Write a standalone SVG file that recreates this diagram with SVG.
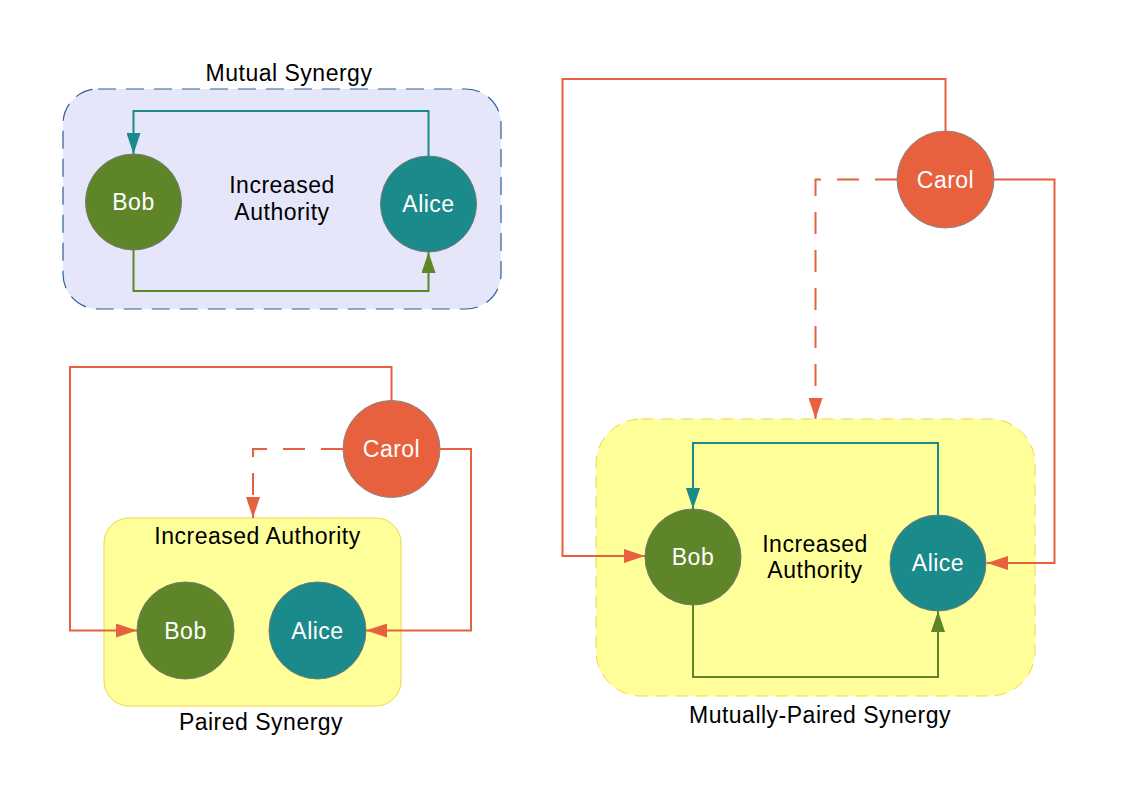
<svg xmlns="http://www.w3.org/2000/svg" width="1123" height="794" viewBox="0 0 1123 794">
<style>
text{font-family:"Liberation Sans",Arial,sans-serif;font-size:23px;letter-spacing:0.5px;text-anchor:middle;fill:#000}
.w{fill:#fff}
.bob{fill:#5e8527;stroke:#777;stroke-width:1}
.alice{fill:#1a8a8a;stroke:#777;stroke-width:1}
.carol{fill:#e8613f;stroke:#888;stroke-width:1}
.ln{fill:none;stroke-width:2}
.o{stroke:#e8613f}
.t{stroke:#1a8a8a}
.g{stroke:#5e8527}
.d{stroke-dasharray:22 16}
</style>
<defs>
<marker id="ao" markerUnits="userSpaceOnUse" markerWidth="22" markerHeight="14" refX="21" refY="7" orient="auto"><path d="M0,0 L21,7 L0,14 z" fill="#e8613f"/></marker>
<marker id="at" markerUnits="userSpaceOnUse" markerWidth="22" markerHeight="14" refX="21" refY="7" orient="auto"><path d="M0,0 L21,7 L0,14 z" fill="#1a8a8a"/></marker>
<marker id="ag" markerUnits="userSpaceOnUse" markerWidth="22" markerHeight="14" refX="21" refY="7" orient="auto"><path d="M0,0 L21,7 L0,14 z" fill="#5e8527"/></marker>
</defs>
<rect width="1123" height="794" fill="#fff"/>

<g id="mutual">
<rect x="63" y="89" width="438" height="220" rx="35" fill="#e6e6fb" stroke="#2a6099" stroke-width="1.2" stroke-dasharray="18 10"/>
<text x="289" y="81">Mutual Synergy</text>
<text x="282" y="193">Increased</text>
<text x="282" y="220">Authority</text>
</g>
<g id="paired">
<rect x="104" y="518" width="297" height="188" rx="25" fill="#ffff99" stroke="#eed54a" stroke-width="1"/>
<text x="257.5" y="544">Increased Authority</text>
<text x="261" y="730">Paired Synergy</text>
</g>
<g id="mutually-paired">
<rect x="596" y="419" width="439" height="277" rx="45" fill="#ffff99" stroke="#eed54a" stroke-width="1" stroke-dasharray="12 8"/>
<text x="815" y="552">Increased</text>
<text x="815" y="578">Authority</text>
<text x="820" y="723">Mutually-Paired Synergy</text>
</g>

<g id="connectors">
<path class="ln t" d="M428.5,156 V111 H133.5 V154" marker-end="url(#at)"/>
<path class="ln g" d="M133.5,250 V291 H428.5 V252" marker-end="url(#ag)"/>
<path class="ln o" d="M391.5,401 V367 H70 V630.5 H137" marker-end="url(#ao)"/>
<path class="ln o" d="M440,449 H471 V630.5 H366" marker-end="url(#ao)"/>
<path class="ln o d" d="M343,449 H253 V518" marker-end="url(#ao)"/>
<path class="ln o" d="M945.5,131 V79 H562.5 V556 H645" marker-end="url(#ao)"/>
<path class="ln o" d="M994,179.5 H1054.5 V563 H987" marker-end="url(#ao)"/>
<path class="ln o d" d="M897,179.5 H815.5 V419" marker-end="url(#ao)"/>
<path class="ln t" d="M938,515 V443 H693 V509" marker-end="url(#at)"/>
<path class="ln g" d="M693,605 V677 H938 V611" marker-end="url(#ag)"/>
</g>

<g id="bob1"><circle class="bob" cx="133.5" cy="202" r="48"/><text class="w" x="133.5" y="210">Bob</text></g>
<g id="alice1"><circle class="alice" cx="428.5" cy="204" r="48"/><text class="w" x="428.5" y="212">Alice</text></g>
<g id="carol2"><circle class="carol" cx="391.5" cy="449" r="48.5"/><text class="w" x="391.5" y="457">Carol</text></g>
<g id="bob2"><circle class="bob" cx="185.5" cy="630.5" r="48.5"/><text class="w" x="185.5" y="638.5">Bob</text></g>
<g id="alice2"><circle class="alice" cx="317.5" cy="630.5" r="48.5"/><text class="w" x="317.5" y="638.5">Alice</text></g>
<g id="carol3"><circle class="carol" cx="945.5" cy="179.5" r="48.5"/><text class="w" x="945.5" y="187.5">Carol</text></g>
<g id="bob3"><circle class="bob" cx="693" cy="557" r="48"/><text class="w" x="693" y="565">Bob</text></g>
<g id="alice3"><circle class="alice" cx="938" cy="563" r="48"/><text class="w" x="938" y="571">Alice</text></g>
</svg>
